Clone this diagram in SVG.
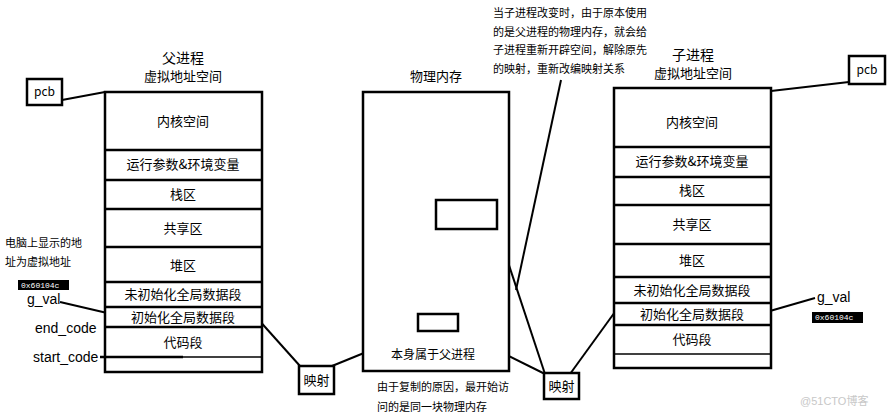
<svg xmlns="http://www.w3.org/2000/svg" width="895" height="418" viewBox="0 0 895 418">
<style>
.box{fill:#fff;stroke:#000;stroke-width:2.5}
.sep{stroke:#000;stroke-width:2.5}
.ln{stroke:#000;stroke-width:2;fill:none}
.t{font-family:"Noto Sans CJK SC","Liberation Sans",sans-serif;font-size:13px;fill:#000;text-anchor:middle}
.s{font-family:"Noto Sans CJK SC","Liberation Sans",sans-serif;font-size:11px;fill:#000}
.e{font-family:"Liberation Sans",Arial,sans-serif;font-size:14px;fill:#000}
.hx{font-family:"Liberation Mono",monospace;font-size:8px;fill:#fff}
</style>
<rect width="895" height="418" fill="#fff"/>
<g id="connectors">
<line class="ln" x1="62" y1="100" x2="105" y2="92"/>
<line class="ln" x1="849" y1="82" x2="771" y2="91"/>
<line class="ln" x1="60" y1="302" x2="120" y2="316"/>
<line class="ln" x1="257" y1="318" x2="300" y2="366"/>
<line class="ln" x1="418" y1="331" x2="332" y2="366"/>
<line class="ln" x1="438" y1="331" x2="431" y2="346"/>
<line class="ln" x1="458" y1="331" x2="545" y2="374"/>
<line class="ln" x1="497" y1="229" x2="545" y2="374"/>
<line class="ln" x1="620" y1="305" x2="570" y2="374"/>
<line class="ln" x1="561" y1="80" x2="516" y2="290"/>
<line class="ln" x1="763" y1="313" x2="815" y2="298"/>
<line x1="484" y1="333" x2="493" y2="362" stroke="#e00" stroke-width="1.5"/>
<line x1="496" y1="333" x2="482" y2="362" stroke="#e00" stroke-width="1.5"/>
</g>
<g id="parent-pcb">
<rect class="box" x="27" y="79" width="35" height="26"/>
<text class="t" x="44.5" y="96" style="font-size:12px">pcb</text>
</g>
<g id="parent-title">
<text class="t" x="183" y="63" style="font-size:14px">父进程</text>
<text class="t" x="183" y="81">虚拟地址空间</text>
</g>
<g id="parent-space">
<rect class="box" x="105" y="92" width="157" height="280"/>
<line class="sep" x1="105" y1="150" x2="262" y2="150"/>
<line class="sep" x1="105" y1="180" x2="262" y2="180"/>
<line class="sep" x1="105" y1="209" x2="262" y2="209"/>
<line class="sep" x1="105" y1="247" x2="262" y2="247"/>
<line class="sep" x1="105" y1="282" x2="262" y2="282"/>
<line class="sep" x1="105" y1="307" x2="262" y2="307"/>
<line class="sep" x1="105" y1="327" x2="262" y2="327"/>
<line class="sep" x1="105" y1="357" x2="262" y2="357" style="stroke-width:1.5"/>
<line class="sep" x1="100" y1="357" x2="183" y2="357"/>
<text class="t" x="183" y="126">内核空间</text>
<text class="t" x="183" y="169">运行参数&amp;环境变量</text>
<text class="t" x="183" y="199">栈区</text>
<text class="t" x="183" y="233">共享区</text>
<text class="t" x="183" y="270">堆区</text>
<text class="t" x="183" y="299">未初始化全局数据段</text>
<text class="t" x="183" y="322">初始化全局数据段</text>
<text class="t" x="183" y="347">代码段</text>
</g>
<g id="left-labels">
<text class="s" x="5" y="247">电脑上显示的地</text>
<text class="s" x="5" y="266">址为虚拟地址</text>
<rect x="18" y="280" width="51" height="10" fill="#000"/>
<text class="hx" x="21" y="288">0x60104c</text>
<text class="e" x="27" y="304">g_val</text>
<text class="e" x="35" y="333">end_code</text>
<text class="e" x="33" y="362">start_code</text>
</g>
<g id="physical">
<text class="t" x="436" y="81">物理内存</text>
<rect class="box" x="363" y="92" width="146" height="279"/>
<rect class="box" x="436" y="200" width="61" height="29"/>
<rect class="box" x="418" y="314" width="40" height="17"/>
<text class="t" x="433" y="359" style="font-size:12px">本身属于父进程</text>
</g>
<g id="map-left">
<rect class="box" x="299" y="366" width="35" height="28"/>
<text class="t" x="316.5" y="385">映射</text>
</g>
<g id="map-right">
<rect class="box" x="544" y="373" width="35" height="26"/>
<text class="t" x="561.5" y="391">映射</text>
</g>
<g id="note-top">
<text class="s" x="493" y="17">当子进程改变时，由于原本使用</text>
<text class="s" x="493" y="36">的是父进程的物理内存，就会给</text>
<text class="s" x="493" y="54">子进程重新开辟空间，解除原先</text>
<text class="s" x="493" y="73">的映射，重新改编映射关系</text>
</g>
<g id="note-bottom">
<text class="s" x="377" y="391">由于复制的原因，最开始访</text>
<text class="s" x="377" y="411">问的是同一块物理内存</text>
</g>
<g id="child-title">
<text class="t" x="693" y="60" style="font-size:14px">子进程</text>
<text class="t" x="693" y="78">虚拟地址空间</text>
</g>
<g id="child-pcb">
<rect class="box" x="849" y="56" width="36" height="28"/>
<text class="t" x="867" y="74" style="font-size:12px">pcb</text>
</g>
<g id="child-space">
<rect class="box" x="614" y="88" width="157" height="280"/>
<line class="sep" x1="614" y1="147" x2="771" y2="147"/>
<line class="sep" x1="614" y1="177" x2="771" y2="177"/>
<line class="sep" x1="614" y1="205" x2="771" y2="205"/>
<line class="sep" x1="614" y1="244" x2="771" y2="244"/>
<line class="sep" x1="614" y1="277" x2="771" y2="277"/>
<line class="sep" x1="614" y1="303" x2="771" y2="303"/>
<line class="sep" x1="614" y1="325" x2="771" y2="325"/>
<line class="sep" x1="614" y1="354" x2="771" y2="354" style="stroke-width:1.5"/>
<text class="t" x="692" y="127">内核空间</text>
<text class="t" x="692" y="166">运行参数&amp;环境变量</text>
<text class="t" x="692" y="195">栈区</text>
<text class="t" x="692" y="229">共享区</text>
<text class="t" x="692" y="265">堆区</text>
<text class="t" x="692" y="295">未初始化全局数据段</text>
<text class="t" x="692" y="319">初始化全局数据段</text>
<text class="t" x="692" y="344">代码段</text>
</g>
<g id="right-labels">
<text class="e" x="817" y="302">g_val</text>
<rect x="812" y="312" width="51" height="11" fill="#000"/>
<text class="hx" x="815" y="320">0x60104c</text>
</g>
<text x="800" y="405" style="font-family:'Liberation Sans','Noto Sans CJK SC',sans-serif;font-size:11px;fill:#c8c8c8">@51CTO博客</text>
</svg>
